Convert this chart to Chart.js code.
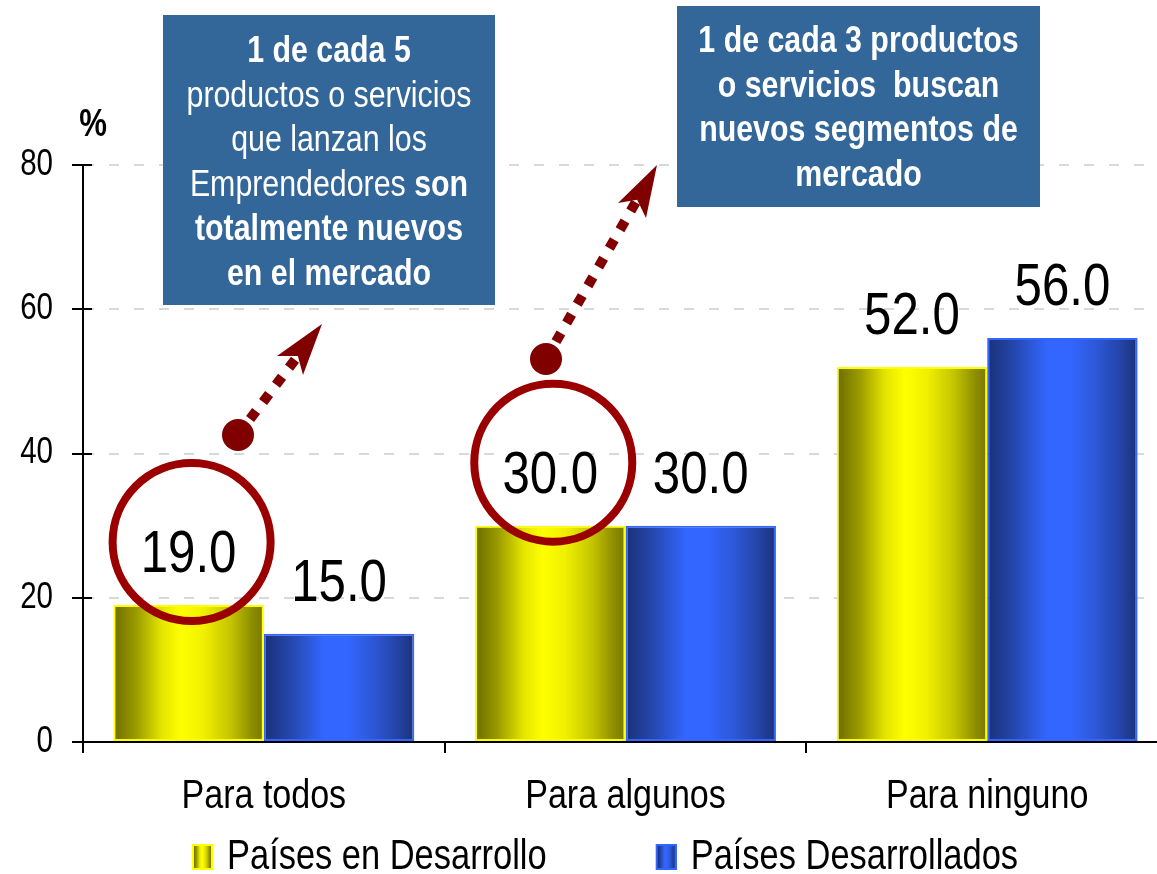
<!DOCTYPE html>
<html>
<head>
<meta charset="utf-8">
<script src="https://cdn.jsdelivr.net/npm/chart.js@4/dist/chart.umd.min.js"></script>
<style>
  html, body { margin: 0; padding: 0; background: #fff; overflow: hidden; width: 1157px; height: 874px; }
  #wrap { position: absolute; left: 0; top: 0; width: 1157px; height: 874px; overflow: hidden; }
  canvas { display: block; }
</style>
</head>
<body>
<div id="wrap"><canvas id="c" width="1200" height="888"></canvas></div>
<script>
// ---------- data ----------
const categories = ['Para todos', 'Para algunos', 'Para ninguno'];
const seriesNames = ['Países en Desarrollo', 'Países Desarrollados'];
const developing = [19.0, 30.0, 52.0];
const developed = [15.0, 30.0, 56.0];
const yTicks = [0, 20, 40, 60, 80];
const yUnit = '%';
const note1 = [
  [['b', '1 de cada 5']],
  [['n', 'productos o servicios']],
  [['n', 'que lanzan los']],
  [['n', 'Emprendedores '], ['b', 'son']],
  [['b', 'totalmente nuevos']],
  [['b', 'en el mercado']]
];
const note2 = [
  [['b', '1 de cada 3 productos']],
  [['b', 'o servicios  buscan']],
  [['b', 'nuevos segmentos de']],
  [['b', 'mercado']]
];

// ---------- style ----------
const FONT = "'Liberation Sans', Arial, sans-serif";
const NARROW_X = 0.82;   // horizontal condensing of all text (Arial Narrow look)
const CAT_PCT = 0.832;
const yellowStops = [[0, '#6c6c00'], [0.15, '#9a9a00'], [0.32, '#e4e400'], [0.45, '#ffff00'], [0.6, '#f0f000'], [0.78, '#c4c400'], [0.92, '#8e8e00'], [1, '#787800']];
const blueStops = [[0, '#1a3078'], [0.18, '#2547ad'], [0.4, '#3366ff'], [0.55, '#3366ff'], [0.72, '#2d58d8'], [0.88, '#2444a8'], [1, '#1c3278']];
const RING = '#9b0000';
const ARROW = '#800000';
const BOXBLUE = '#336699';

// condensed text: patch this canvas' context so every text is drawn and measured narrower
const canvas = document.getElementById('c');
const c2d = canvas.getContext('2d');
const P = CanvasRenderingContext2D.prototype;
c2d.fillText = function (t, x, y, mw) {
  this.save();
  this.translate(x, y);
  this.scale(NARROW_X, 1);
  P.fillText.call(this, t, 0, 0);
  this.restore();
};
c2d.measureText = function (t) {
  const m = P.measureText.call(this, t);
  return {
    width: m.width * NARROW_X,
    actualBoundingBoxAscent: m.actualBoundingBoxAscent,
    actualBoundingBoxDescent: m.actualBoundingBoxDescent,
    actualBoundingBoxLeft: m.actualBoundingBoxLeft * NARROW_X,
    actualBoundingBoxRight: m.actualBoundingBoxRight * NARROW_X,
    fontBoundingBoxAscent: m.fontBoundingBoxAscent,
    fontBoundingBoxDescent: m.fontBoundingBoxDescent
  };
};

function makeBarFill(stops, flat) {
  return (c) => {
    const chart = c.chart;
    if (c.type !== 'data' || !chart.chartArea) return flat;
    const xs = chart.scales.x;
    const center = xs.getPixelForValue(c.dataIndex);
    const catW = xs.getPixelForValue(1) - xs.getPixelForValue(0);
    const w = catW * CAT_PCT / 2;
    const left = c.datasetIndex === 0 ? center - w : center;
    const g = chart.ctx.createLinearGradient(left, 0, left + w, 0);
    stops.forEach(([o, col]) => g.addColorStop(o, col));
    return g;
  };
}

// legend swatch image: transparent lead-in, gradient box at its right end
const SW_LEAD = 120;
function legendSwatch(stops, border) {
  const cv = document.createElement('canvas');
  cv.width = SW_LEAD + 14; cv.height = 26;
  const x = cv.getContext('2d');
  const x0 = cv.width - 21;
  x.fillStyle = border; x.fillRect(x0, 0, 21, 26);
  const g = x.createLinearGradient(x0 + 2, 0, x0 + 19, 0);
  stops.forEach(([o, col]) => g.addColorStop(o, col));
  x.fillStyle = g; x.fillRect(x0 + 2, 2, 17, 22);
  return cv;
}
const swatches = [legendSwatch(yellowStops, '#ffff00'), legendSwatch(blueStops, '#3366ff')];

function drawRich(ctx, segs, cx, baseline, size) {
  const fonts = { b: 'bold ' + size + 'px ' + FONT, n: size + 'px ' + FONT };
  let total = 0;
  segs.forEach(([f, t]) => { ctx.font = fonts[f]; total += ctx.measureText(t).width; });
  let x = cx - total / 2;
  ctx.textAlign = 'left';
  ctx.textBaseline = 'alphabetic';
  segs.forEach(([f, t]) => { ctx.font = fonts[f]; ctx.fillText(t, x, baseline); x += ctx.measureText(t).width; });
}

function drawNote(ctx, box, lines, firstBaseline, lineGap) {
  ctx.fillStyle = BOXBLUE;
  ctx.fillRect(box.x, box.y, box.w, box.h);
  ctx.fillStyle = '#ffffff';
  lines.forEach((segs, i) => drawRich(ctx, segs, box.x + box.w / 2, firstBaseline + i * lineGap, 37));
}

function drawArrow(ctx, from, tip, wing1, wing2) {
  const dx = tip[0] - from[0], dy = tip[1] - from[1];
  const len = Math.hypot(dx, dy);
  const ux = dx / len, uy = dy / len;
  const notch = [tip[0] - 40 * ux, tip[1] - 40 * uy];
  ctx.save();
  ctx.fillStyle = ARROW;
  ctx.strokeStyle = ARROW;
  ctx.beginPath();
  ctx.arc(from[0], from[1], 16, 0, Math.PI * 2);
  ctx.fill();
  ctx.lineWidth = 10;
  ctx.lineCap = 'butt';
  ctx.setLineDash([10, 11.5]);
  ctx.beginPath();
  ctx.moveTo(from[0] + 20 * ux, from[1] + 20 * uy);
  ctx.lineTo(notch[0], notch[1]);
  ctx.stroke();
  ctx.setLineDash([]);
  ctx.beginPath();
  ctx.moveTo(tip[0], tip[1]);
  ctx.lineTo(wing1[0], wing1[1]);
  ctx.lineTo(notch[0], notch[1]);
  ctx.lineTo(wing2[0], wing2[1]);
  ctx.closePath();
  ctx.fill();
  ctx.restore();
}

const decorPlugin = {
  id: 'decor',
  afterDatasetsDraw(chart) {
    const ctx = chart.ctx;
    ctx.save();
    ctx.fillStyle = '#000';
    ctx.font = '60px ' + FONT;
    ctx.textAlign = 'center';
    ctx.textBaseline = 'alphabetic';
    chart.data.datasets.forEach((ds, di) => {
      chart.getDatasetMeta(di).data.forEach((el, i) => {
        ctx.fillText(ds.data[i].toFixed(1), el.x, el.y - 33);
      });
    });
    ctx.restore();
  },
  afterDraw(chart) {
    const ctx = chart.ctx;
    const ys = chart.scales.y;
    const area = chart.chartArea;
    ctx.save();
    // inner half of crossing tick marks on y axis
    ctx.strokeStyle = '#000';
    ctx.lineWidth = 2;
    ys.ticks.forEach(t => {
      const py = Math.round(ys.getPixelForValue(t.value));
      ctx.beginPath(); ctx.moveTo(area.left, py); ctx.lineTo(area.left + 9, py); ctx.stroke();
    });
    // unit label
    ctx.fillStyle = '#000';
    ctx.font = 'bold 38px ' + FONT;
    ctx.textAlign = 'center';
    ctx.textBaseline = 'alphabetic';
    ctx.fillText(yUnit, 93, 136);
    // notes
    drawNote(ctx, { x: 163, y: 15, w: 332, h: 290 }, note1, 62, 44.5);
    drawNote(ctx, { x: 677, y: 6, w: 363, h: 201 }, note2, 52, 44.5);
    // rings around highlighted values
    const meta0 = chart.getDatasetMeta(0).data;
    [0, 1].forEach(i => {
      const el = meta0[i];
      ctx.strokeStyle = RING;
      ctx.lineWidth = 8;
      ctx.beginPath();
      ctx.arc(el.x + 3, el.y - 63, 79, 0, Math.PI * 2);
      ctx.stroke();
    });
    // arrows
    drawArrow(ctx, [238, 435], [322, 324], [277, 356], [303, 375]);
    drawArrow(ctx, [546, 359], [657, 165], [618, 203], [646, 218]);
    ctx.restore();
  }
};

new Chart(canvas, {
  type: 'bar',
  data: {
    labels: categories,
    datasets: [
      {
        label: seriesNames[0],
        data: developing,
        backgroundColor: makeBarFill(yellowStops, '#e0e000'),
        borderColor: '#ffff00',
        borderWidth: 2,
        borderSkipped: false
      },
      {
        label: seriesNames[1],
        data: developed,
        backgroundColor: makeBarFill(blueStops, '#2a55d8'),
        borderColor: '#3366ff',
        borderWidth: 2,
        borderSkipped: false
      }
    ]
  },
  options: {
    responsive: false,
    animation: false,
    events: [],
    layout: { padding: { top: 165, right: 32, bottom: 0, left: 0 } },
    datasets: { bar: { barPercentage: 1, categoryPercentage: CAT_PCT } },
    scales: {
      x: {
        offset: true,
        afterFit: (s) => { s.height = 91; },
        grid: { display: true, drawOnChartArea: false, drawTicks: true, tickLength: 11, color: '#000', tickColor: '#000', lineWidth: 2, tickWidth: 2, offset: true },
        border: { display: true, color: '#000', width: 2 },
        ticks: { color: '#000', font: { family: FONT, size: 41.5 }, padding: 19, maxRotation: 0, autoSkip: false }
      },
      y: {
        min: 0, max: 80,
        afterFit: (s) => { s.width = 83; },
        afterBuildTicks: (s) => { s.ticks = yTicks.map(v => ({ value: v })); },
        grid: { color: '#d9d9d9', lineWidth: 2, tickColor: '#000', tickWidth: 2, tickLength: 11, tickBorderDash: [] },
        border: { display: true, color: '#000', width: 2, dash: [10, 15] },
        ticks: { color: '#000', font: { family: FONT, size: 36 }, padding: 19 }
      }
    },
    plugins: {
      tooltip: { enabled: false },
      legend: {
        position: 'bottom',
        fullSize: false,
        align: 'start',
        labels: {
          color: '#000',
          font: { family: FONT, size: 42 },
          usePointStyle: true,
          pointStyleWidth: SW_LEAD,
          boxHeight: 26,
          padding: 3,
          generateLabels: (chart) => chart.data.datasets.map((ds, i) => ({
            text: ds.label,
            pointStyle: swatches[i],
            fillStyle: 'transparent',
            strokeStyle: 'transparent',
            lineWidth: 0,
            hidden: false,
            datasetIndex: i
          }))
        }
      }
    }
  },
  plugins: [decorPlugin]
});
</script>
</body>
</html>
